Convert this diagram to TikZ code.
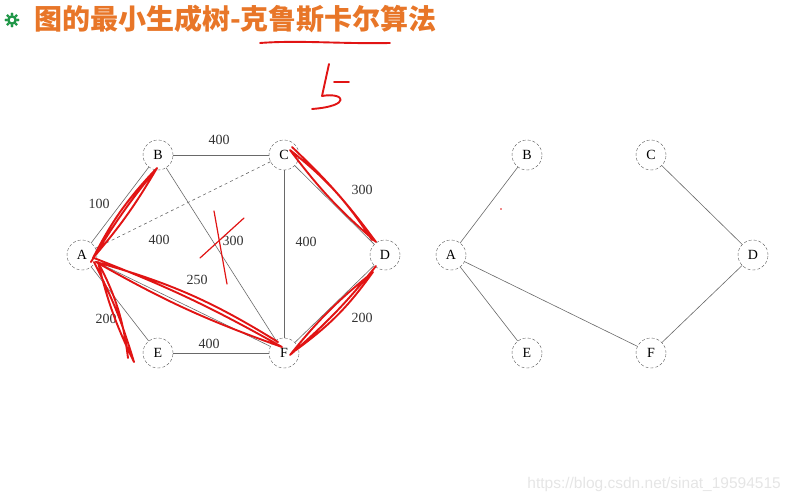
\documentclass[tikz,border=0pt]{standalone}
\usepackage{fontspec}
\setmainfont{Liberation Serif}
\newfontfamily\cjkfont{Noto Sans CJK SC}
\newfontfamily\wmfont{Liberation Sans}
\usepackage{tikz}
\usetikzlibrary{calc}
\definecolor{titleorange}{RGB}{232, 118, 40}
\definecolor{icongreen}{RGB}{30, 150, 70}
\definecolor{penred}{RGB}{225, 20, 20}
\definecolor{edgegray}{RGB}{105, 105, 105}
\tikzset{
  vtx/.style={circle, draw=black!65, densely dashed, minimum size=30pt, inner sep=0pt,
    fill=white, font=\fontsize{14}{14}\selectfont},
  edge/.style={draw=edgegray, line width=0.6pt},
  wlabel/.style={font=\fontsize{14}{14}\selectfont, text=black!80, inner sep=1pt},
  redpen/.style={draw=penred, line width=1.9pt, line cap=round, line join=round},
}

\begin{document}
\begin{tikzpicture}[x=1pt, y=-1pt]
  \useasboundingbox (0,0) rectangle (791,503);
  % title
  \fill[icongreen] (12,20) circle (5);
  \fill[white] (12,20) circle (2.2);
  \foreach \a in {0,45,...,315} \fill[icongreen] ($(12,20)+(\a:6)$) circle (1.6);
  \node[anchor=west, text=titleorange, font=\cjkfont\bfseries\fontsize{28}{28}\selectfont, inner sep=0pt]
    (title) at (34,19) {图的最小生成树-克鲁斯卡尔算法};
  % left graph
  \node[vtx] (lB) at (158,155) {B};
  \node[vtx] (lC) at (284,155) {C};
  \node[vtx] (lA) at (82,255) {A};
  \node[vtx] (lD) at (385,255) {D};
  \node[vtx] (lE) at (158,353) {E};
  \node[vtx] (lF) at (284,353) {F};
  \draw[edge] (lA) -- (lB);
  \draw[edge] (lB) -- (lC);
  \draw[edge, dashed] (lA) -- (lC);
  \draw[edge] (lB) -- (lF);
  \draw[edge] (lC) -- (lF);
  \draw[edge] (lC) -- (lD);
  \draw[edge] (lA) -- (lF);
  \draw[edge] (lA) -- (lE);
  \draw[edge] (lE) -- (lF);
  \draw[edge] (lD) -- (lF);
  \node[wlabel] (wAB) at (99,204) {100};
  \node[wlabel] (wBC) at (219,140) {400};
  \node[wlabel] (wAC) at (159,240) {400};
  \node[wlabel] (wBF) at (233,241) {300};
  \node[wlabel] (wCF) at (306,242) {400};
  \node[wlabel] (wCD) at (362,190) {300};
  \node[wlabel] (wAF) at (197,280) {250};
  \node[wlabel] (wAE) at (106,319) {200};
  \node[wlabel] (wEF) at (209,344) {400};
  \node[wlabel] (wDF) at (362,318) {200};
  % right graph
  \node[vtx] (rB) at (527,155) {B};
  \node[vtx] (rC) at (651,155) {C};
  \node[vtx] (rA) at (451,255) {A};
  \node[vtx] (rD) at (753,255) {D};
  \node[vtx] (rE) at (527,353) {E};
  \node[vtx] (rF) at (651,353) {F};
  \draw[edge] (rA) -- (rB);
  \draw[edge] (rA) -- (rE);
  \draw[edge] (rA) -- (rF);
  \draw[edge] (rC) -- (rD);
  \draw[edge] (rD) -- (rF);
  \fill[penred] (501,209) circle (0.9);
  % pen marks
  \draw[redpen] (260,43) .. controls (300,40) and (340,44) .. (390,43);
  \draw[redpen] (329,64) -- (322,96) .. controls (345,92) and (352,106) .. (312,109);
  \draw[redpen] (334,82) -- (349,82);
  \draw[redpen] (91,262) to[bend left=4] (157,168) to[bend left=5] (93,258) to[bend left=8] (155,170);
  \draw[redpen] (292,147) to[bend left=5] (376,242) to[bend left=6] (290,150) to[bend left=9] (372,240);
  \draw[redpen] (94,258) to[bend left=4] (282,347) to[bend left=5] (96,262) to[bend left=8] (278,342);
  \draw[redpen] (94,262) to[bend left=5] (134,362) to[bend left=6] (98,262) to[bend left=10] (128,358);
  \draw[redpen] (376,266) to[bend left=5] (290,355) to[bend left=6] (373,272) to[bend left=9] (296,350);
  \draw[redpen, line width=1.2pt] (200,258) -- (244,218);
  \draw[redpen, line width=1.2pt] (214,211) -- (227,284);
  % watermark
  \node[anchor=east, text=black!10, font=\wmfont\fontsize{15.5}{15.5}\selectfont, inner sep=0pt]
    (wmark) at (781,484) {https://blog.csdn.net/sinat\_19594515};
\end{tikzpicture}
\end{document}
